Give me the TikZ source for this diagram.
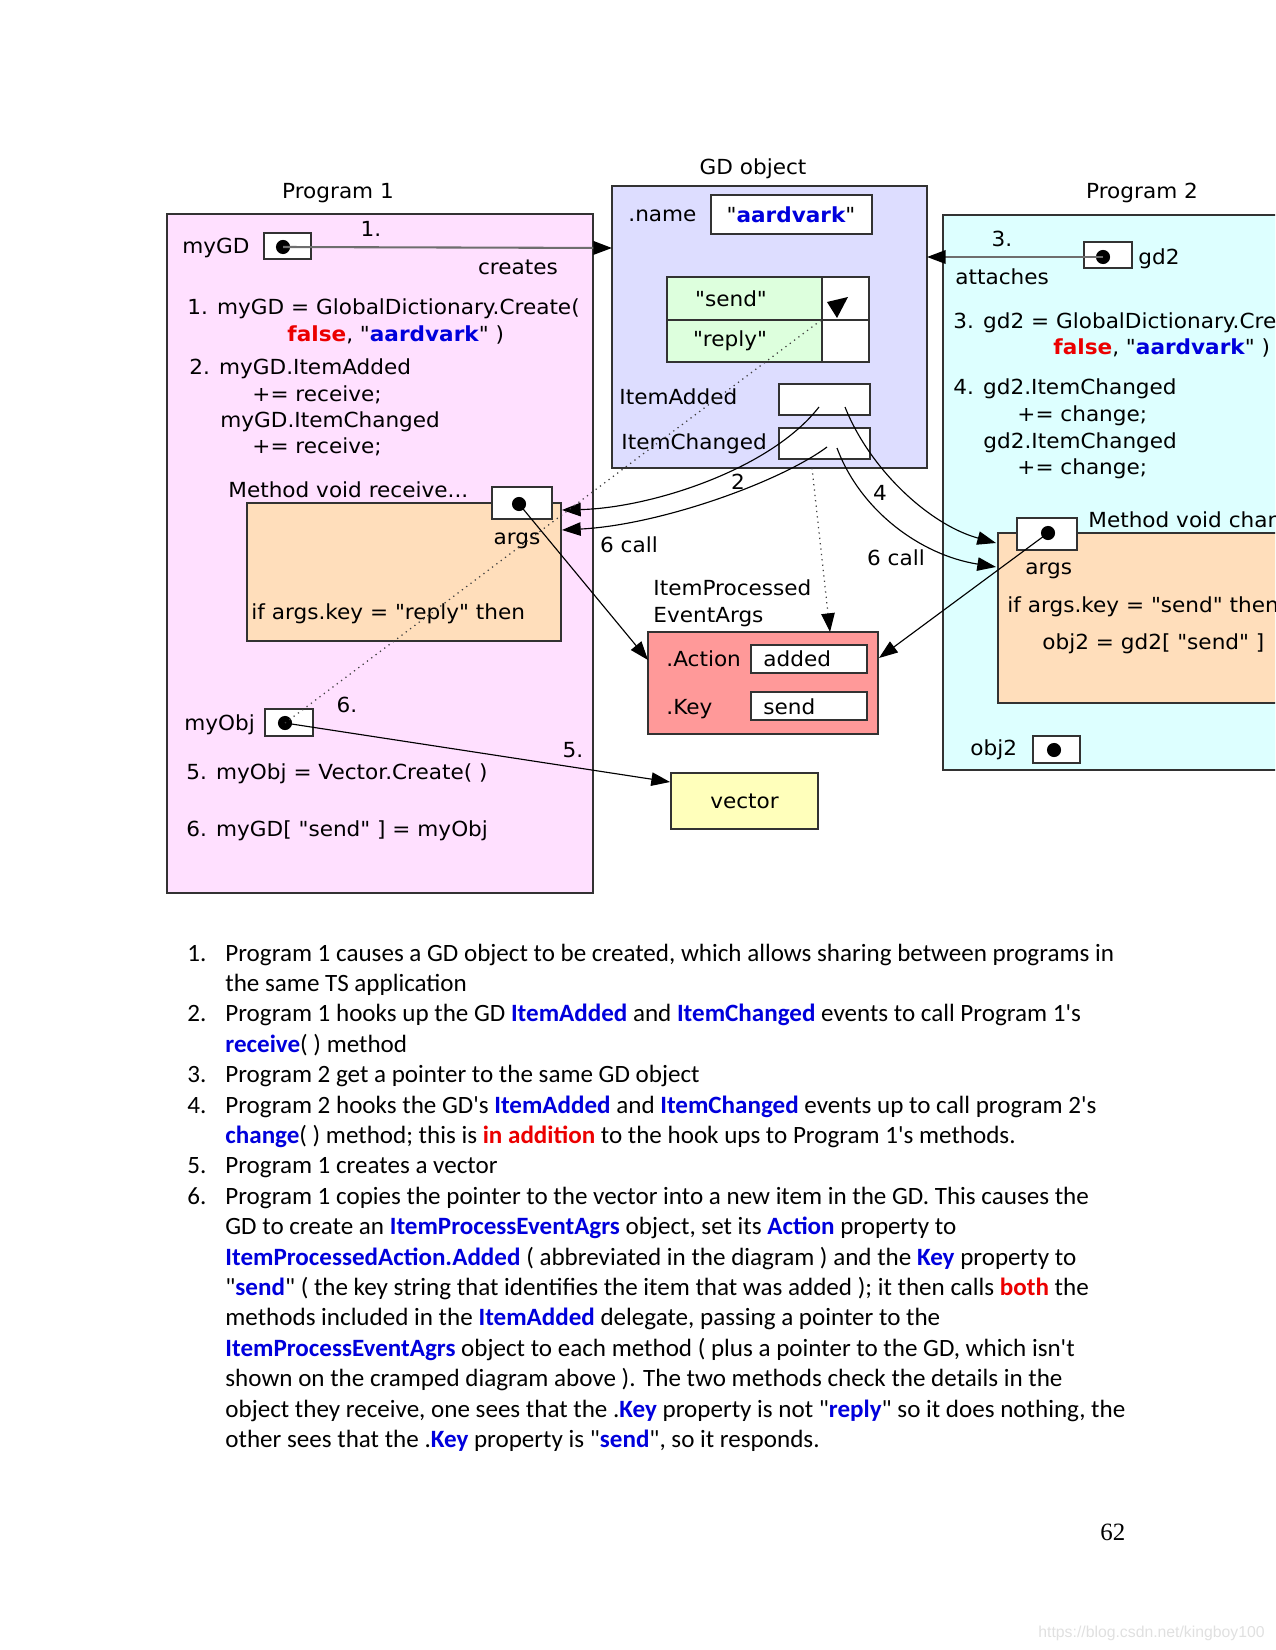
\documentclass[tikz,border=0pt]{standalone}
\usepackage{fontspec}
\setmainfont{Carlito}
\newfontfamily\carl{Carlito}[FakeStretch=1.007]
\newfontfamily\dvs{DejaVu Sans}[FakeStretch=1.04]
\newfontfamily\tms{Liberation Serif}
\newfontfamily\ars{Liberation Sans}
\usetikzlibrary{arrows.meta}
\newlength\pxu
\setlength\pxu{0.4818pt}
\definecolor{pinkbg}{RGB}{255,224,255}
\definecolor{lavbg}{RGB}{221,221,255}
\definecolor{cyanbg}{RGB}{221,255,255}
\definecolor{peachbg}{RGB}{255,222,187}
\definecolor{greenbg}{RGB}{221,255,221}
\definecolor{redbg}{RGB}{255,153,153}
\definecolor{vecbg}{RGB}{255,255,187}
\definecolor{myblue}{RGB}{0,0,220}
\definecolor{myred}{RGB}{235,0,0}
\definecolor{bordc}{RGB}{50,50,50}
\definecolor{grayln}{RGB}{110,110,110}
\newcommand\Bl[1]{{\bfseries\color{myblue}#1}}
\newcommand\Rd[1]{{\bfseries\color{myred}#1}}
\newcommand\mybox[6]{\node[box,fill=#2,minimum width={(#5-#3)*0.4818pt},minimum height={(#6-#4)*0.4818pt}] (#1) at (#3,#4) {};}
\begin{document}
\begin{tikzpicture}[x=1\pxu,y=-1\pxu,
  box/.style={draw=bordc,line width=0.8pt,anchor=north west,inner sep=0pt,outer sep=0pt},
  dt/.style={font=\dvs\fontsize{10}{12}\selectfont,inner sep=0pt,anchor=base west},
  dtc/.style={dt,anchor=base},
  lt/.style={font=\carl\fontsize{12}{14.6}\selectfont,inner sep=0pt,anchor=base west},
  arr/.style={draw=black,line width=0.55pt,-{Triangle[length=9pt,width=6.5pt]}},
  garr/.style={draw=grayln,line width=1pt,-{Triangle[length=9pt,width=6.5pt,color=black,fill=black]}},
  dotl/.style={draw=black!75,line width=0.6pt,dotted},
  dot/.style={fill=black}]
\useasboundingbox (0,0) rectangle (1275,1650);
\clip (0,0) rectangle (1275,1650);
% ---------- big boxes
\mybox{P1}{pinkbg}{167}{214}{593}{893}
\mybox{GD}{lavbg}{612}{186}{927}{468}
\mybox{P2}{cyanbg}{943}{215}{1300}{770}
% ---------- GD inner
\mybox{nameb}{white}{711}{195}{872}{234}
\mybox{sendk}{greenbg}{667}{277}{822}{320}
\mybox{sendv}{white}{822}{277}{869}{320}
\mybox{replk}{greenbg}{667}{320}{822}{362}
\mybox{replv}{white}{822}{320}{869}{362}
\mybox{iab}{white}{779}{384}{870}{415}
\mybox{icb}{white}{779}{428}{870}{459}
% ---------- program 1 inner
\mybox{gdp}{white}{264}{233}{311}{259}
\mybox{recv}{peachbg}{247}{503}{561}{641}
\mybox{argp}{white}{492}{487}{552}{519}
\mybox{objp}{white}{265}{709}{313}{736}
% ---------- middle
\mybox{ipe}{redbg}{648}{632}{878}{734}
\mybox{actb}{white}{751}{645}{867}{673}
\mybox{keyb}{white}{751}{692}{867}{720}
\mybox{vec}{vecbg}{671}{773}{818}{829}
% ---------- program 2 inner
\mybox{gd2p}{white}{1084}{242}{1132}{268}
\mybox{chg}{peachbg}{998}{533}{1300}{703}
\mybox{arg2p}{white}{1017}{518}{1077}{550}
\mybox{obj2p}{white}{1033}{736}{1080}{763}
% ---------- dots
\coordinate (dGD) at (283,247);
\coordinate (dArg) at (519,504);
\coordinate (dObj) at (285,723);
\coordinate (dGD2) at (1103,257);
\coordinate (dArg2) at (1048,533);
\coordinate (dObj2) at (1054,750);
\foreach \d in {dGD,dArg,dObj,dGD2,dArg2,dObj2} {\fill[dot] (\d) circle[radius=3.4pt];}
% ---------- titles
\node[dtc] (tP1) at (338,199) {Program 1};
\node[dtc] (tGD) at (753,175) {GD object};
\node[dtc] (tP2) at (1142,199) {Program 2};
% ---------- program 1 texts
\node[dt] (t1) at (182,254) {myGD};
\node[dtc] (t2) at (371,237) {1.};
\node[dtc] (t3) at (518,275) {creates};
\node[dt] (t4) at (187,315) {1. myGD = GlobalDictionary.Create(};
\node[dt] (t5) at (287,342) {\Rd{false}, "\Bl{aardvark}" )};
\node[dt] (t6) at (189,375) {2. myGD.ItemAdded};
\node[dt] (t7) at (252,402) {+= receive;};
\node[dt] (t8) at (220,428) {myGD.ItemChanged};
\node[dt] (t9) at (252,454) {+= receive;};
\node[dt] (t10) at (228,497) {Method void receive...};
\node[dtc] (t11) at (517,544) {args};
\node[dt] (t12) at (251,619) {if args.key = "reply" then};
\node[dt] (t13) at (184,730) {myObj};
\node[dtc] (t14) at (347,712) {6.};
\node[dtc] (t15) at (573,757) {5.};
\node[dt] (t16) at (186,779) {5. myObj = Vector.Create( )};
\node[dt] (t17) at (186,836) {6. myGD[ "send" ] = myObj};
% ---------- GD texts
\node[dt] (g1) at (628,222) {.name};
\node[dtc] (g2) at (791,223) {"\Bl{aardvark}"};
\node[dtc] (g3) at (731,307) {"send"};
\node[dtc] (g4) at (730,347) {"reply"};
\node[dt] (g5) at (619,405) {ItemAdded};
\node[dt] (g6) at (621,450) {ItemChanged};
% ---------- middle texts
\node[dtc] (m1) at (738,490) {2};
\node[dtc] (m2) at (880,500) {4};
\node[dtc] (m3) at (629,552) {6 call};
\node[dtc] (m4) at (896,565) {6 call};
\node[dt] (m5) at (653,595) {ItemProcessed};
\node[dt] (m6) at (653,622) {EventArgs};
\node[dt] (m7) at (666,666) {.Action};
\node[dt] (m8) at (763,666) {added};
\node[dt] (m9) at (666,714) {.Key};
\node[dt] (m10) at (763,714) {send};
\node[dtc] (m11) at (744.5,808) {vector};
% ---------- program 2 texts
\node[dtc] (p1) at (1002,247) {3.};
\node[dt] (p2) at (1138,265) {gd2};
\node[dt] (p3) at (955,285) {attaches};
\node[dt] (p4) at (953,329) {3. gd2 = GlobalDictionary.Create(};
\node[dt] (p5) at (1053,355) {\Rd{false}, "\Bl{aardvark}" )};
\node[dt] (p6) at (953,395) {4. gd2.ItemChanged};
\node[dt] (p7) at (1017,422) {+= change;};
\node[dt] (p8) at (983,449) {gd2.ItemChanged};
\node[dt] (p9) at (1017,475) {+= change;};
\node[dt] (p10) at (1088,527) {Method void change...};
\node[dt] (p11) at (1025,574) {args};
\node[dt] (p12) at (1007,612) {if args.key = "send" then};
\node[dt] (p13) at (1042,649) {obj2 = gd2[ "send" ]};
\node[dt] (p14) at (970,755) {obj2};
% ---------- connectors
\coordinate (gdL) at (612,248);
\coordinate (gdR) at (927,257);
\draw[garr] (dGD) -- (gdL);
\draw[garr] (dGD2) -- (gdR);
\coordinate (iaS1) at (819,407);
\coordinate (iaS2) at (845,407);
\coordinate (icS1) at (827,447);
\coordinate (icS2) at (837,448);
\coordinate (rcA) at (562,510);
\coordinate (rcB) at (562,530);
\coordinate (chA) at (996,543);
\coordinate (chB) at (996,567);
\draw[arr] (iaS1) .. controls (770,470) and (650,508) .. (rcA);
\draw[arr] (icS1) .. controls (780,482) and (660,525) .. (rcB);
\draw[arr] (iaS2) .. controls (870,470) and (930,525) .. (chA);
\draw[arr] (icS2) .. controls (860,510) and (920,555) .. (chB);
\coordinate (ipeL) at (648,660);
\coordinate (ipeR) at (879,658);
\draw[arr] (dArg) -- (ipeL);
\draw[arr] (dArg2) -- (ipeR);
\coordinate (gdB) at (812,468);
\coordinate (ipeT) at (830,632);
\draw[dotl,-{Triangle[length=9pt,width=6.5pt,color=black,fill=black]}] (gdB) -- (ipeT);
\coordinate (vecL) at (670,782);
\draw[arr] (dObj) -- (vecL);
\coordinate (sendC) at (824,318);
\draw[dotl] (dObj) -- (sendC);
\fill (827,302) -- (848,297) -- (837,318) -- cycle;
% ---------- list text
\node[lt] (n1) at (187,961) {1.};
\node[lt] (l1) at (225,961) {Program 1 causes a GD object to be created, which allows sharing between programs in};
\node[lt] (l2) at (225,991.4) {the same TS application};
\node[lt] (n2) at (187,1021.8) {2.};
\node[lt] (l3) at (225,1021.8) {Program 1 hooks up the GD \Bl{ItemAdded} and \Bl{ItemChanged} events to call Program 1's};
\node[lt] (l4) at (225,1052.2) {\Bl{receive}( ) method};
\node[lt] (n3) at (187,1082.6) {3.};
\node[lt] (l5) at (225,1082.6) {Program 2 get a pointer to the same GD object};
\node[lt] (n4) at (187,1113) {4.};
\node[lt] (l6) at (225,1113) {Program 2 hooks the GD's \Bl{ItemAdded} and \Bl{ItemChanged} events up to call program 2's};
\node[lt] (l7) at (225,1143.4) {\Bl{change}( ) method; this is \Rd{in addition} to the hook ups to Program 1's methods.};
\node[lt] (n5) at (187,1173.8) {5.};
\node[lt] (l8) at (225,1173.8) {Program 1 creates a vector};
\node[lt] (n6) at (187,1204.2) {6.};
\node[lt] (l9) at (225,1204.2) {Program 1 copies the pointer to the vector into a new item in the GD. This causes the};
\node[lt] (l10) at (225,1234.6) {GD to create an \Bl{ItemProcessEventAgrs} object, set its \Bl{Action} property to};
\node[lt] (l11) at (225,1265) {\Bl{ItemProcessedAction.Added} ( abbreviated in the diagram ) and the \Bl{Key} property to};
\node[lt] (l12) at (225,1295.4) {"\Bl{send}" ( the key string that identifies the item that was added ); it then calls \Rd{both} the};
\node[lt] (l13) at (225,1325.8) {methods included in the \Bl{ItemAdded} delegate, passing a pointer to the};
\node[lt] (l14) at (225,1356.2) {\Bl{ItemProcessEventAgrs} object to each method ( plus a pointer to the GD, which isn't};
\node[lt] (l15) at (225,1386.6) {shown on the cramped diagram above ). The two methods check the details in the};
\node[lt] (l16) at (225,1417) {object they receive, one sees that the .\Bl{Key} property is not "\Bl{reply}" so it does nothing, the};
\node[lt] (l17) at (225,1447.4) {other sees that the .\Bl{Key} property is "\Bl{send}", so it responds.};
% ---------- page number and watermark
\node[inner sep=0pt,anchor=base west,font=\tms\fontsize{12}{14}\selectfont] (pg) at (1100,1540) {62};
\node[inner sep=0pt,anchor=base west,font=\ars\fontsize{7.6}{9}\selectfont,text=black!12] (wm) at (1038,1637) {https://blog.csdn.net/kingboy100};
\end{tikzpicture}
\end{document}
